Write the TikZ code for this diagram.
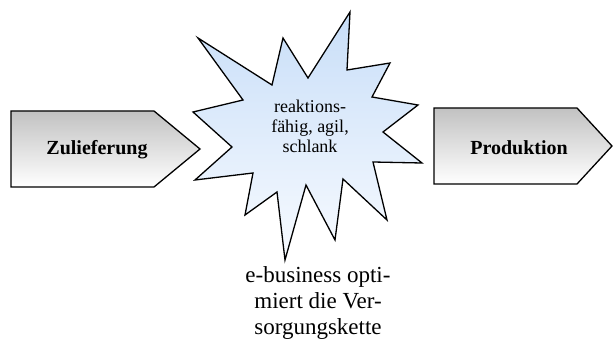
\documentclass[tikz,border=0pt]{standalone}
\usepackage{fontspec}
\setmainfont{Liberation Serif}
\begin{document}
\begin{tikzpicture}[x=1pt,y=-1pt,
  outline/.style={draw=black, line width=1.3pt, line join=miter},
  arrowbox/.style={outline, top color=black!24, bottom color=white},
  starshape/.style={outline, top color={rgb,255:red,200;green,222;blue,248}, bottom color={rgb,255:red,248;green,251;blue,255}},
  boxlabel/.style={font=\fontsize{20}{22}\selectfont\bfseries, inner sep=0pt},
  starlabel/.style={font=\fontsize{18}{20}\selectfont, align=center, inner sep=0pt},
  notelabel/.style={font=\fontsize{23}{26}\selectfont, align=center, inner sep=0pt}]
\useasboundingbox (0,0) rectangle (614,342);
% left arrow box
\path[arrowbox] (11,111) -- (154,111) -- (200,149) -- (154,187) -- (11,187) -- cycle;
\node[boxlabel] (zul) at (97,150) {Zulieferung};
% right arrow box
\path[arrowbox] (434,108) -- (577,108) -- (612,146) -- (577,184) -- (434,184) -- cycle;
\node[boxlabel] (prod) at (519,148) {Produktion};
% star
\path[starshape] (198,38) -- (272,85) -- (283,38) -- (308,78) -- (350,12) -- (347,70)
  -- (390,63) -- (372,97) -- (418,105) -- (383,132) -- (422,163) -- (373,162)
  -- (387,220) -- (343,179) -- (335,240) -- (306,185) -- (285,260) -- (277,192)
  -- (245,215) -- (253,173) -- (195,180) -- (232,147) -- (193,112) -- (243,100) -- cycle;
\node[starlabel] (star) at (310,126) {reaktions-\\fähig, agil,\\schlank};
\node[notelabel, anchor=north] (note) at (318,266) {e-business opti-\\miert die Ver-\\sorgungskette};
\end{tikzpicture}
\end{document}
